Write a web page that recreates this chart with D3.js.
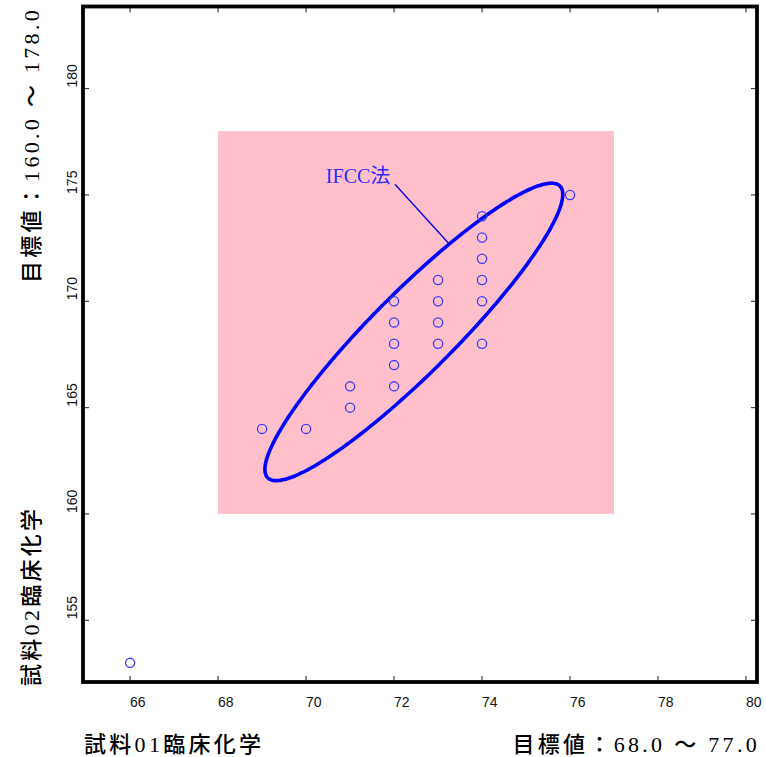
<!DOCTYPE html>
<html>
<head>
<meta charset="utf-8">
<script src="https://cdn.jsdelivr.net/npm/d3@7"></script>
<style>
  html, body { margin: 0; padding: 0; background: #fff; }
  svg { display: block; }
</style>
</head>
<body>
<svg id="chart" width="766" height="757"></svg>
<script>
// Paired results: sample 01 (x) vs sample 02 (y)
const xValues = [66, 69, 70, 71, 71, 72, 72, 72, 72, 72, 73, 73, 73, 73, 74, 74, 74, 74, 74, 74, 76];
const yValues = [153, 164, 164, 165, 166, 166, 167, 168, 169, 170, 168, 169, 170, 171, 168, 170, 171, 172, 173, 174, 175];

// Target ranges (目標値)
const targetX = [68.0, 77.0];
const targetY = [160.0, 178.0];

// Axis extents and ticks
const xDomain = [64.93, 80.25];
const yDomain = [152.10, 183.86];
const xTicks = [66, 68, 70, 72, 74, 76, 78, 80];
const yTicks = [155, 160, 165, 170, 175, 180];

// Method ellipse (IFCC法): centre and half-axis vectors in data units
const ellipseCenter = [72.45, 168.56];
const ellipseMajor = [3.32, 6.86];
const ellipseMinor = [0.66, -1.36];
const methodLabel = "IFCC法";
const labelPos = [70.45, 175.56];
const leaderStart = [72.02, 175.50];
const leaderAngle = -65;   // degrees along the ellipse

const xTitle = "試料01臨床化学";
const yTitle = "試料02臨床化学";
const xTarget = "目標値：68.0 ～ 77.0";
const yTarget = "目標値：160.0 ～ 178.0";

const frame = { left: 83, right: 757, top: 6.5, bottom: 682 };

const svg = d3.select("#chart");
const x = d3.scaleLinear().domain(xDomain).range([frame.left, frame.right]);
const y = d3.scaleLinear().domain(yDomain).range([frame.bottom, frame.top]);

// target area
svg.append("rect")
  .attr("x", x(targetX[0])).attr("y", y(targetY[1]))
  .attr("width", x(targetX[1]) - x(targetX[0]))
  .attr("height", y(targetY[0]) - y(targetY[1]))
  .attr("fill", "#ffc0cb");

// ellipse traced through the data scales
const ellPts = d3.range(0, 360, 2).map(d => {
  const t = d * Math.PI / 180;
  return [
    ellipseCenter[0] + Math.cos(t) * ellipseMajor[0] + Math.sin(t) * ellipseMinor[0],
    ellipseCenter[1] + Math.cos(t) * ellipseMajor[1] + Math.sin(t) * ellipseMinor[1]
  ];
});
svg.append("path")
  .attr("d", d3.line().x(d => x(d[0])).y(d => y(d[1])).curve(d3.curveCardinalClosed)(ellPts))
  .attr("fill", "none")
  .attr("stroke", "#0000ff")
  .attr("stroke-width", 3.6);

// leader line from label to ellipse
const ta = leaderAngle * Math.PI / 180;
const leaderEnd = [
  ellipseCenter[0] + Math.cos(ta) * ellipseMajor[0] + Math.sin(ta) * ellipseMinor[0],
  ellipseCenter[1] + Math.cos(ta) * ellipseMajor[1] + Math.sin(ta) * ellipseMinor[1]
];
svg.append("line")
  .attr("x1", x(leaderStart[0])).attr("y1", y(leaderStart[1]))
  .attr("x2", x(leaderEnd[0])).attr("y2", y(leaderEnd[1]))
  .attr("stroke", "#0000ee").attr("stroke-width", 1.3);

svg.append("text")
  .attr("x", x(labelPos[0])).attr("y", y(labelPos[1]))
  .attr("font-family", "'Liberation Serif', 'Noto Sans CJK JP', serif")
  .attr("font-size", 20)
  .attr("fill", "#2b2bff")
  .text(methodLabel);

// points
svg.append("g").selectAll("circle")
  .data(xValues.map((v, i) => [v, yValues[i]]))
  .join("circle")
  .attr("cx", d => x(d[0])).attr("cy", d => y(d[1]))
  .attr("r", 4.6)
  .attr("fill", "none")
  .attr("stroke", "#3a3aff")
  .attr("stroke-width", 1.3);

// inward ticks on all four sides
const tickLen = 6;
const ticks = svg.append("g").attr("stroke", "#333").attr("stroke-width", 1.1);
xTicks.forEach(v => {
  ticks.append("line").attr("x1", x(v)).attr("x2", x(v)).attr("y1", frame.bottom).attr("y2", frame.bottom - tickLen);
  ticks.append("line").attr("x1", x(v)).attr("x2", x(v)).attr("y1", frame.top).attr("y2", frame.top + tickLen);
});
yTicks.forEach(v => {
  ticks.append("line").attr("y1", y(v)).attr("y2", y(v)).attr("x1", frame.left).attr("x2", frame.left + tickLen);
  ticks.append("line").attr("y1", y(v)).attr("y2", y(v)).attr("x1", frame.right).attr("x2", frame.right - tickLen);
});

// frame
svg.append("rect")
  .attr("x", frame.left).attr("y", frame.top)
  .attr("width", frame.right - frame.left).attr("height", frame.bottom - frame.top)
  .attr("fill", "none").attr("stroke", "#000").attr("stroke-width", 3.8);

// tick labels
const tickFont = "'Liberation Sans', Arial, sans-serif";
svg.append("g").selectAll("text")
  .data(xTicks).join("text")
  .attr("x", d => x(d)).attr("y", 707)
  .attr("font-family", tickFont).attr("font-size", 14)
  .attr("fill", "#111")
  .text(d => d);
svg.append("g").selectAll("text")
  .data(yTicks).join("text")
  .attr("transform", d => `translate(77,${y(d) - 1}) rotate(-90)`)
  .attr("font-family", tickFont).attr("font-size", 14)
  .attr("fill", "#111")
  .text(d => d);

// titles
const titleFont = "'Liberation Serif', 'Noto Sans CJK JP', serif";
function title(txt, anchor, tr) {
  svg.append("text")
    .attr("transform", tr)
    .attr("text-anchor", anchor)
    .attr("font-family", titleFont)
    .attr("font-size", 22)
    .attr("font-weight", 500)
    .attr("letter-spacing", 3.3)
    .attr("fill", "#000")
    .text(txt);
}
title(xTitle, "start", "translate(84,752)");
title(xTarget, "end", "translate(760,752)");
title(yTitle, "start", "translate(39,686) rotate(-90)");
title(yTarget, "end", "translate(39,7) rotate(-90)");
</script>
</body>
</html>
